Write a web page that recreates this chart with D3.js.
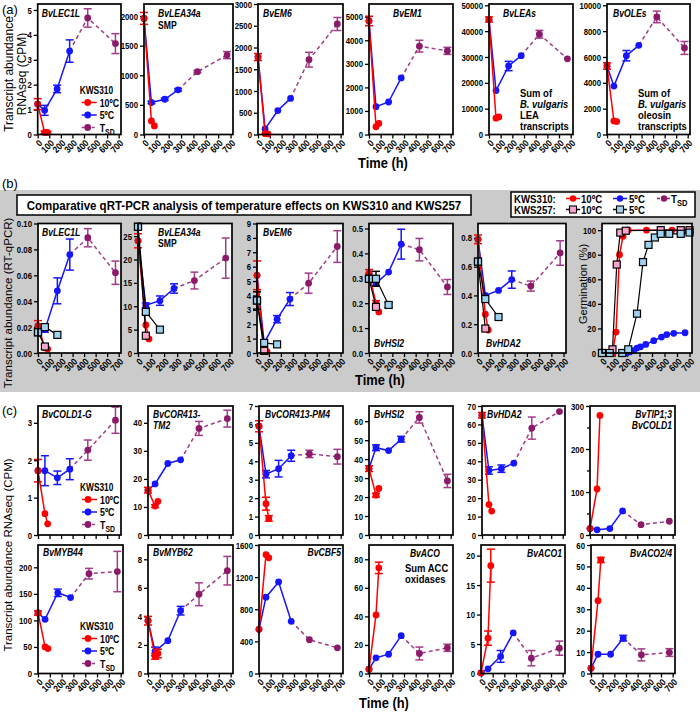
<!DOCTYPE html>
<html><head><meta charset="utf-8">
<script src="https://cdn.jsdelivr.net/npm/d3@7"></script>
<style>
body{margin:0;background:#fff}
svg text{font-family:"Liberation Sans",Arial,sans-serif}
</style></head><body>
<script>
// ---- time points (h) ----
var timeTicks = [0, 100, 200, 300, 400, 500, 600, 700];
var tRed = [0, 60, 84];
var tBlue = [0, 60, 168, 276];
var tTsd = [276, 432, 672];
var tK257 = [0, 60, 168];

// ---- values as [mean, error]; order: 10ºC, 5ºC, TSD (+ KWS257 10ºC, 5ºC in panel b) ----
// (a) RNAseq
var a_LEC1L = [[[1.22,.22],[.08,.05],[.08,.04]], [[1.22,0],[.97,.2],[1.83,.15],[3.35,.45]], [[4.68,.37],[3.65,.4]]];
var a_LEA34a = [[[1960,100],[230,0],[145,0]], [[1960,0],[540,20],[595,20],[755,20]], [[1060,20],[1340,60]]];
var a_EM6 = [[[1780,80],[20,0],[15,0]], [[1780,0],[130,0],[550,0],[830,0]], [[1720,170],[2540,150]]];
var a_EM1 = [[[4820,200],[330,0],[470,0]], [[4820,0],[1180,0],[1380,0],[2400,0]], [[3750,250],[3550,150]]];
var a_LEAs = [[[44500,1000],[6300,0],[6800,0]], [[44500,0],[17000,0],[26500,1800],[30500,0]], [[38800,1500],[29300,0]]];
var a_OLEs = [[[5300,250],[1050,0],[1000,0]], [[5300,0],[3750,0],[6100,400],[6900,0]], [[9100,450],[6700,500]]];

// (b) RT-qPCR
var b_LEC1L = [[[.021,.004],[.004,0],[.003,0]], [[.021,0],[.018,.002],[.048,.01],[.076,.012]], [[.089,.007],[.062,.009]], [[.016,0],[.005,0]], [[.016,.002],[.020,.002],[.014,0]]];
var b_LEA34a = [[[24,1.5],[6,0],[3,0]], [[24,0],[10.2,.5],[11.2,1],[13.8,1]], [[15.5,1.8],[20.3,4.3]], [[27,0],[3.7,0]], [[27,0],[8.8,.5],[5,0]]];
var b_EM6 = [[[5.4,1],[.15,0],[.1,0]], [[5.4,0],[.7,0],[2.35,.25],[3.75,.45]], [[4.85,.7],[7.4,1.1]], [[3.65,0],[.15,0]], [[3.65,.6],[.7,0],[.6,0]]];
var b_HSI2 = [[[.32,.015],[.2,.01],[.165,0]], [[.32,0],[.28,.01],[.325,0],[.437,.06]], [[.415,.045],[.265,.03]], [[.298,0],[.185,0]], [[.298,0],[.298,.03],[.193,.01]]];
var b_HDA2 = [[[.79,.03],[.27,0],[.16,0]], [[.79,0],[.4,0],[.435,0],[.51,.06]], [[.465,.035],[.695,.085]], [[.635,0],[.17,0]], [[.635,0],[.375,0],[.25,0]]];

// (b) germination (%)
var tGermRed = [0, 48, 84, 112, 140, 168, 210, 356, 560, 700];
var germRed = [0, 0, 0, 17, 80, 95, 100, 100, 100, 100];
var tGermBlue = [0, 62, 162, 196, 224, 252, 280, 308, 350, 414, 476, 518, 574, 664];
var germBlue = [0, 0, 0, 0, 1, 2, 4, 5, 7, 10, 13, 15, 16, 16.5];
var tGermK10 = [0, 84, 118, 146, 190, 470, 630, 700];
var germK10 = [0, 3, 72, 98, 99.5, 100, 100, 100];
var tGermK5 = [0, 62, 162, 210, 280, 328, 372, 423, 470, 538, 630, 700];
var germK5 = [0, 0, 0, 3, 32, 74, 88, 94, 97, 97, 97, 98];

// (c) RNAseq
var c_COLD1G = [[[1.72,.3],[.57,0],[.3,0]], [[1.72,0],[1.72,.4],[1.53,.18],[1.76,.28]], [[2.27,.27],[3.07,.35]]];
var c_TM2 = [[[16,1],[10.3,.5],[12,0]], [[16,0],[18.2,0],[25.5,0],[26.8,0]], [[38,2.5],[41.5,3]]];
var c_PM4 = [[[5.9,.3],[1.7,.35],[.9,.15]], [[5.9,0],[3.3,.2],[3.6,.45],[4.3,.3]], [[4.4,.2],[4.25,.4]]];
var c_HSI2 = [[[35,1.5],[21,1],[24.5,0]], [[35,0],[46,1.5],[44.5,0],[50.5,1.5]], [[62,3],[28.5,3.5]]];
var c_HDA2 = [[[65,1.5],[16.5,0],[13,0]], [[65,0],[35,2],[36,2],[39,0]], [[58,6],[67,0]]];
var c_TIP = [[[15,0],[107,0],[278,0]], [[15,0],[12,0],[15,0],[56,0]], [[24,0],[32,0]]];
var c_MYB44 = [[[114,4],[50,0],[47,0]], [[114,0],[102,0],[152,7],[143,0]], [[188,10],[192,38]]];
var c_MYB62 = [[[3.7,.3],[1.2,.2],[1.4,.3]], [[3.7,0],[1.55,.3],[2.3,0],[4.4,.3]], [[5.55,.8],[7.2,1]]];
var c_CBF5 = [[[550,0],[1480,0],[1440,0]], [[550,0],[950,0],[1140,0],[650,0]], [[420,0],[320,0]]];
var c_ACO = [[[3,0],[41,0],[74,4]], [[3,0],[11,0],[13.5,0],[26.5,0]], [[14,4.5],[18,2.5]]];
var c_ACO1 = [[[.1,0],[6,1.2],[18.3,2.8]], [[.1,0],[.8,0],[2.9,1],[6.9,0]], [[2.6,1.3],[4.3,1.2]]];
var c_ACO24 = [[[2.5,0],[34,0],[53,1.2]], [[2.5,0],[9,0],[9,0],[16.5,1.3]], [[8.7,2.8],[9.8,1.8]]];

var RED = "#ff0000", BLUE = "#1515ff", TSD = "#8c1a6a", TSDL = "#a33c88", PINK = "#f6a7cb", LBLUE = "#9fd2ee";

var svg = d3.select("body").append("svg").attr("width", 700).attr("height", 712);

// text helper; horizontal text is narrowed a little like the source figure
function txt(g, x, y, s, o) {
  o = o || {};
  var sx = o.sx || 0.82;
  var t = g.append("text")
    .attr("transform", o.rot ? "translate(" + x + "," + y + ") rotate(-90)"
                             : "translate(" + x + "," + y + ") scale(" + sx + ",1)")
    .attr("font-size", o.size || 11)
    .attr("font-weight", o.weight || "bold")
    .attr("font-style", o.italic ? "italic" : null)
    .attr("text-anchor", o.anchor || "start")
    .text(s);
  return t;
}

function tsdText(g, x, y, size, sx) {
  var t = txt(g, x, y, "T", {size: size, sx: sx});
  t.append("tspan").attr("dy", 3).attr("font-size", size * 0.78).text("SD");
}

function drawSeries(g, x, y, ts, vals, o) {
  var pts = ts.map(function(t, i) {
    var v = vals[i];
    return Array.isArray(v) ? {t: t, v: v[0], e: v[1], i: i} : {t: t, v: v, e: 0, i: i};
  });
  g.append("path").datum(pts)
    .attr("d", d3.line().x(function(d) { return x(d.t); }).y(function(d) { return y(d.v); }))
    .attr("fill", "none").attr("stroke", o.line).attr("stroke-width", o.lw || 1.5)
    .attr("stroke-dasharray", o.dash || null);
  var mk = pts.filter(function(d) { return !(o.skipFirst && d.i === 0); });
  var eb = mk.filter(function(d) { return d.e > 0; });
  var ge = g.append("g").attr("stroke", o.ebar || o.fill).attr("stroke-width", 1.5).attr("fill", "none");
  eb.forEach(function(d) {
    var cx = x(d.t), y1 = y(d.v - d.e), y2 = y(d.v + d.e);
    ge.append("line").attr("x1", cx).attr("x2", cx).attr("y1", y1).attr("y2", y2);
    ge.append("line").attr("x1", cx - 4).attr("x2", cx + 4).attr("y1", y1).attr("y2", y1);
    ge.append("line").attr("x1", cx - 4).attr("x2", cx + 4).attr("y1", y2).attr("y2", y2);
  });
  if (o.square) {
    g.selectAll(null).data(mk).enter().append("rect")
      .attr("x", function(d) { return x(d.t) - 3.5; }).attr("y", function(d) { return y(d.v) - 3.5; })
      .attr("width", 7).attr("height", 7)
      .attr("fill", o.fill).attr("stroke", "#000").attr("stroke-width", 1.2);
  } else {
    g.selectAll(null).data(mk).enter().append("circle")
      .attr("cx", function(d) { return x(d.t); }).attr("cy", function(d) { return y(d.v); })
      .attr("r", o.r || 3.4).attr("fill", o.fill);
  }
}

function panel(o) {
  var w = o.r - o.l, h = o.b - o.t;
  var g = svg.append("g").attr("transform", "translate(" + o.l + "," + o.t + ")");
  var x = d3.scaleLinear().domain([0, 720]).range([0, w]);
  var y = d3.scaleLinear().domain([0, o.ymax]).range([h, 0]);
  g.append("rect").attr("width", w).attr("height", h).attr("fill", "#fff");

  var gy = g.append("g").call(d3.axisLeft(y).tickValues(o.ticks).tickSize(4).tickPadding(2)
    .tickFormat(d3.format(o.fmt || "d")));
  if (o.minor) g.append("g").call(d3.axisLeft(y).tickValues(o.minor).tickSize(3).tickFormat(""));
  var gx = g.append("g").attr("transform", "translate(0," + h + ")")
    .call(d3.axisBottom(x).tickValues(timeTicks).tickSize(4).tickFormat(o.noX ? "" : d3.format("d")));
  g.selectAll(".domain").remove();
  g.selectAll(".tick line").attr("stroke", "#000").attr("stroke-width", 1.3);
  g.selectAll(".tick text").attr("fill", "#000").attr("font-size", 9.5).attr("font-weight", "bold")
    .attr("font-family", '"Liberation Sans",Arial,sans-serif');
  gy.selectAll(".tick text").attr("x", -7.3).attr("transform", "scale(0.82,1)");
  gx.selectAll(".tick text").attr("y", 0).attr("x", 0).attr("dy", "0.35em")
    .attr("text-anchor", "end").attr("transform", "translate(2.5,7) rotate(-45) scale(0.86,1)");

  if (o.data) {
    var d = o.data;
    var lastBlue = d[1][d[1].length - 1];
    drawSeries(g, x, y, tTsd, [lastBlue].concat(d[2]), {line: TSDL, fill: TSD, ebar: TSDL, dash: "4,3", skipFirst: true});
    drawSeries(g, x, y, tBlue, d[1], {line: BLUE, fill: BLUE});
    drawSeries(g, x, y, tRed, d[0], {line: RED, fill: RED});
    if (d[3]) {
      drawSeries(g, x, y, tK257.slice(0, 2), d[3], {line: "#000", fill: PINK, ebar: "#000", square: true, lw: 1.2});
      drawSeries(g, x, y, tK257, d[4], {line: "#000", fill: LBLUE, ebar: "#000", square: true, lw: 1.2});
    }
  }
  if (o.germ) {
    drawSeries(g, x, y, tGermBlue, germBlue, {line: BLUE, fill: BLUE});
    drawSeries(g, x, y, tGermRed, germRed, {line: RED, fill: RED});
    drawSeries(g, x, y, tGermK10, germK10, {line: "#000", fill: PINK, square: true, lw: 1.2});
    drawSeries(g, x, y, tGermK5, germK5, {line: "#000", fill: LBLUE, square: true, lw: 1.2});
  }
  g.append("rect").attr("width", w).attr("height", h).attr("fill", "none")
    .attr("stroke", "#000").attr("stroke-width", 1.7);

  (o.labels || []).forEach(function(L) {
    var lx = L.end ? w - L.x : L.x;
    txt(g, lx, L.y, L.t, {size: L.size || 10.5, italic: !L.plain, anchor: L.end ? "end" : "start"});
  });
  if (o.legend) {
    var ly = o.legend;
    txt(g, 42, ly, "KWS310", {size: 11, sx: 0.76});
    [[RED, "10ºC"], [BLUE, "5ºC"], [TSD, null]].forEach(function(it, i) {
      var yy = ly + 12.5 * (i + 1);
      g.append("line").attr("x1", 44).attr("x2", 59).attr("y1", yy - 4).attr("y2", yy - 4)
        .attr("stroke", i === 2 ? TSDL : it[0]).attr("stroke-width", 1.5)
        .attr("stroke-dasharray", i === 2 ? "3,2" : null);
      g.append("circle").attr("cx", 50).attr("cy", yy - 4).attr("r", 3.4).attr("fill", it[0]);
      if (it[1]) txt(g, 62, yy, it[1], {size: 11, sx: 0.8});
      else tsdText(g, 62, yy, 11, 0.8);
    });
  }
  return g;
}

// ---- panel labels and titles ----
txt(svg, 2, 14, "(a)", {size: 13, weight: "normal", sx: 1});
svg.append("rect").attr("x", 0).attr("y", 190).attr("width", 700).attr("height", 202).attr("fill", "#cbcbcb");
txt(svg, 2, 188, "(b)", {size: 13, weight: "normal", sx: 1});
txt(svg, 2, 415, "(c)", {size: 13, weight: "normal", sx: 1});

// ---- (a) ----
var rA = {t: 4, b: 134.5};
panel({l: 37.7, r: 121, t: rA.t, b: rA.b, ymax: 5.24, ticks: [0,1,2,3,4,5], data: a_LEC1L,
  labels: [{t: "BvLEC1L", x: 4, y: 13}], legend: 90});
panel({l: 144, r: 233, t: rA.t, b: rA.b, ymax: 2203, ticks: [0,500,1000,1500,2000], data: a_LEA34a,
  labels: [{t: "BvLEA34a", x: 14, y: 13}, {t: "SMP", x: 14, y: 25, plain: true}]});
panel({l: 258, r: 343, t: rA.t, b: rA.b, ymax: 3000, ticks: [0,500,1000,1500,2000,2500,3000], data: a_EM6,
  labels: [{t: "BvEM6", x: 5, y: 13}]});
panel({l: 369, r: 453, t: rA.t, b: rA.b, ymax: 5540, ticks: [0,1000,2000,3000,4000,5000], data: a_EM1,
  labels: [{t: "BvEM1", x: 24, y: 13}]});
var gLEAs = panel({l: 489, r: 573, t: rA.t, b: rA.b, ymax: 50500, ticks: [0,10000,20000,30000,40000,50000], data: a_LEAs,
  labels: [{t: "BvLEAs", x: 14, y: 13}]});
var gOLEs = panel({l: 607, r: 690, t: rA.t, b: rA.b, ymax: 10100, ticks: [0,2000,4000,6000,8000,10000], data: a_OLEs,
  labels: [{t: "BvOLEs", x: 6, y: 13}]});
[[gLEAs, "LEA"], [gOLEs, "oleosin"]].forEach(function(p) {
  txt(p[0], 31, 93, "Sum of", {size: 11, sx: 0.86});
  txt(p[0], 31, 104, "B. vulgaris", {size: 11, italic: true, sx: 0.86});
  txt(p[0], 31, 115, p[1], {size: 11, sx: 0.86});
  txt(p[0], 31, 126, "transcripts", {size: 11, sx: 0.86});
});
txt(svg, 13, 74, "Transcript abundance", {size: 12, weight: "normal", rot: true, anchor: "middle"});
txt(svg, 26, 74, "RNAseq (CPM)", {size: 12, weight: "normal", rot: true, anchor: "middle"});
txt(svg, 383, 168, "Time (h)", {size: 14, anchor: "middle", sx: 0.92});

// ---- (b) ----
svg.append("rect").attr("x", 17).attr("y", 195).attr("width", 454).attr("height", 20)
  .attr("fill", "#fff").attr("stroke", "#000").attr("stroke-width", 1.5);
txt(svg, 244, 209.5, "Comparative qRT-PCR analysis of temperature effects on KWS310 and KWS257", {size: 13, anchor: "middle", sx: 0.885});
var leg = svg.append("g");
leg.append("rect").attr("x", 511).attr("y", 192).attr("width", 184).attr("height", 25)
  .attr("fill", "#fff").attr("stroke", "#000").attr("stroke-width", 1.5);
txt(leg, 514, 202.5, "KWS310:", {size: 10.5, sx: 0.92});
txt(leg, 514, 213.5, "KWS257:", {size: 10.5, sx: 0.92});
function legItem(x, y, col, sq, dash) {
  leg.append("line").attr("x1", x - 7).attr("x2", x + 7).attr("y1", y).attr("y2", y)
    .attr("stroke", sq ? "#000" : col).attr("stroke-width", 1.5).attr("stroke-dasharray", dash || null);
  if (sq) leg.append("rect").attr("x", x - 3.5).attr("y", y - 3.5).attr("width", 7).attr("height", 7)
    .attr("fill", col).attr("stroke", "#000").attr("stroke-width", 1.1);
  else leg.append("circle").attr("cx", x).attr("cy", y).attr("r", 3.2).attr("fill", col);
}
legItem(573, 198.5, RED); txt(leg, 581, 202.5, "10ºC", {size: 10.5, sx: 0.92});
legItem(620, 198.5, BLUE); txt(leg, 629, 202.5, "5ºC", {size: 10.5, sx: 0.92});
legItem(664, 198.5, TSD, false, "3,2"); tsdText(leg, 671, 202.5, 10.5, 0.92);
legItem(573, 209.5, PINK, true); txt(leg, 581, 213.5, "10ºC", {size: 10.5, sx: 0.92});
legItem(620, 209.5, LBLUE, true); txt(leg, 629, 213.5, "5ºC", {size: 10.5, sx: 0.92});

var rB = {t: 223.5, b: 353};
panel({l: 38, r: 121, t: rB.t, b: rB.b, ymax: 0.1, ticks: [0,.02,.04,.06,.08,.1], fmt: ".2f", data: b_LEC1L,
  labels: [{t: "BvLEC1L", x: 4, y: 12}]});
panel({l: 138, r: 232, t: rB.t, b: rB.b, ymax: 27.7, ticks: [0,5,10,15,20,25], data: b_LEA34a,
  labels: [{t: "BvLEA34a", x: 20, y: 12}, {t: "SMP", x: 20, y: 23.5, plain: true}]});
panel({l: 257, r: 343, t: rB.t, b: rB.b, ymax: 9, ticks: [0,1,2,3,4,5,6,7,8,9], data: b_EM6,
  labels: [{t: "BvEM6", x: 6, y: 12}]});
panel({l: 369, r: 453, t: rB.t, b: rB.b, ymax: 0.52, ticks: [0,.1,.2,.3,.4,.5], fmt: ".1f", data: b_HSI2,
  labels: [{t: "BvHSI2", x: 5, y: 123}]});
panel({l: 478, r: 566, t: rB.t, b: rB.b, ymax: 0.9, ticks: [0,.2,.4,.6,.8], fmt: ".1f", data: b_HDA2,
  labels: [{t: "BvHDA2", x: 8, y: 123}]});
panel({l: 602, r: 692, t: rB.t, b: rB.b, ymax: 105.4, ticks: [0,20,40,60,80,100], germ: true});
txt(svg, 12, 303, "Transcript abundance (RT-qPCR)", {size: 11.5, weight: "normal", rot: true, anchor: "middle"});
txt(svg, 587, 284, "Germination (%)", {size: 11, weight: "normal", rot: true, anchor: "middle"});
txt(svg, 380, 385, "Time (h)", {size: 14, anchor: "middle", sx: 0.92});

// ---- (c) ----
var rC1 = {t: 406, b: 535}, rC2 = {t: 545, b: 673.5};
panel({l: 38, r: 121, t: rC1.t, b: rC1.b, ymax: 3.45, ticks: [0,1,2,3], data: c_COLD1G, noX: true,
  labels: [{t: "BvCOLD1-G", x: 4, y: 11.5}], legend: 85});
panel({l: 148, r: 233, t: rC1.t, b: rC1.b, ymax: 46, ticks: [0,10,20,30,40], data: c_TM2, noX: true,
  labels: [{t: "BvCOR413-", x: 5, y: 11.5}, {t: "TM2", x: 5, y: 23}]});
panel({l: 259, r: 343, t: rC1.t, b: rC1.b, ymax: 7, ticks: [0,1,2,3,4,5,6,7], data: c_PM4, noX: true,
  labels: [{t: "BvCOR413-PM4", x: 6, y: 11.5}]});
panel({l: 369, r: 453, t: rC1.t, b: rC1.b, ymax: 68, ticks: [0,10,20,30,40,50,60], data: c_HSI2, noX: true,
  labels: [{t: "BvHSI2", x: 5, y: 11.5}]});
panel({l: 482, r: 565, t: rC1.t, b: rC1.b, ymax: 70, ticks: [0,10,20,30,40,50,60,70], data: c_HDA2, noX: true,
  labels: [{t: "BvHDA2", x: 5, y: 11.5}]});
panel({l: 590, r: 675, t: rC1.t, b: rC1.b, ymax: 300, ticks: [0,100,200,300], minor: [50,150,250], data: c_TIP, noX: true,
  labels: [{t: "BvTIP1;3", x: 3, y: 11.5, end: true}, {t: "BvCOLD1", x: 3, y: 23, end: true}]});

panel({l: 38, r: 123, t: rC2.t, b: rC2.b, ymax: 242, ticks: [0,50,100,150,200], data: c_MYB44,
  labels: [{t: "BvMYB44", x: 5, y: 10.5}], legend: 85});
panel({l: 148, r: 233, t: rC2.t, b: rC2.b, ymax: 9, ticks: [0,2,4,6,8], data: c_MYB62,
  labels: [{t: "BvMYB62", x: 5, y: 10.5}]});
panel({l: 259, r: 343, t: rC2.t, b: rC2.b, ymax: 1600, ticks: [0,400,800,1200,1600], data: c_CBF5,
  labels: [{t: "BvCBF5", x: 2, y: 10.5, end: true}]});
var gACO = panel({l: 369, r: 453, t: rC2.t, b: rC2.b, ymax: 90, ticks: [0,20,40,60,80], data: c_ACO,
  labels: [{t: "BvACO", x: 13, y: 12, end: true}]});
txt(gACO, 36, 26.5, "Sum ACC", {size: 11, sx: 0.86});
txt(gACO, 36, 37.5, "oxidases", {size: 11, sx: 0.86});
panel({l: 481, r: 565, t: rC2.t, b: rC2.b, ymax: 21.8, ticks: [0,5,10,15,20], data: c_ACO1,
  labels: [{t: "BvACO1", x: 3, y: 12, end: true}]});
panel({l: 591, r: 675, t: rC2.t, b: rC2.b, ymax: 60, ticks: [0,10,20,30,40,50,60], data: c_ACO24,
  labels: [{t: "BvACO2/4", x: 3, y: 12, end: true}]});
txt(svg, 12, 555, "Transcript abundance RNAseq (CPM)", {size: 11.5, weight: "normal", rot: true, anchor: "middle"});
txt(svg, 384, 708, "Time (h)", {size: 14, anchor: "middle", sx: 0.92});
</script>
</body></html>
